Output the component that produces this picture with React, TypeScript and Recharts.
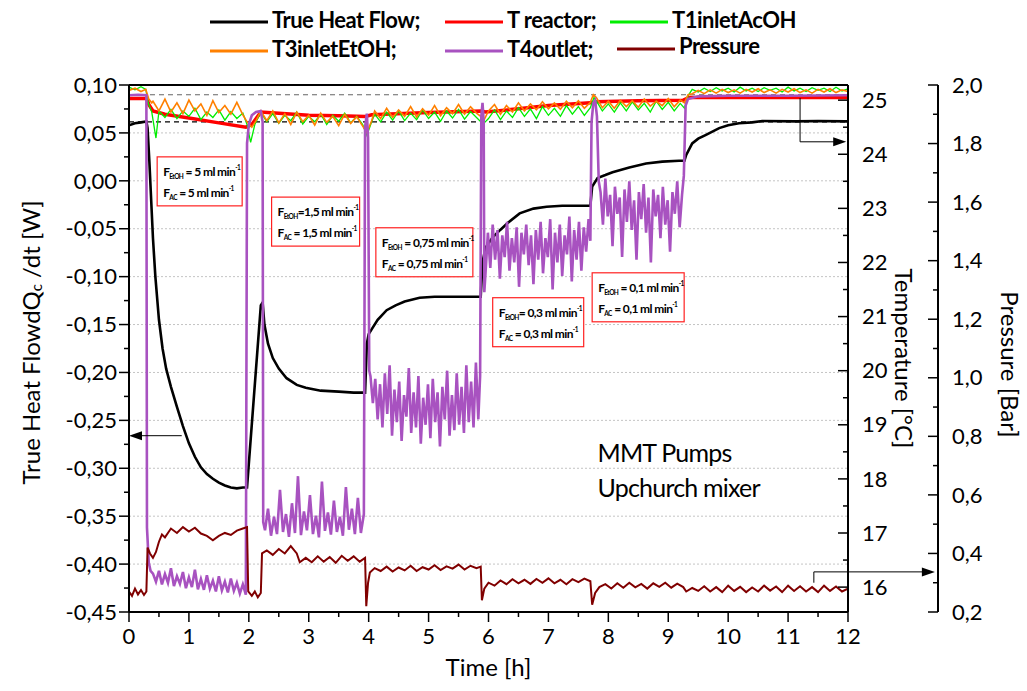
import React from 'react';
import { LineChart, Line, XAxis, YAxis, ReferenceLine, ReferenceDot, Legend } from 'recharts';

const FONT = 'Lato, "Open Sans", sans-serif';

// [time h, value] pairs
const heatFlow: [number, number][] = [
  [0, 0.058], [0.1, 0.06], [0.2, 0.061], [0.29, 0.062], [0.31, 0.055], [0.34, 0.02], [0.37, -0.02],
  [0.4, -0.06], [0.44, -0.1], [0.5, -0.145], [0.56, -0.175], [0.62, -0.196], [0.7, -0.215], [0.8, -0.236],
  [0.9, -0.256], [1.0, -0.274], [1.1, -0.288], [1.2, -0.299], [1.3, -0.306], [1.4, -0.311], [1.5, -0.315],
  [1.6, -0.318], [1.7, -0.32], [1.8, -0.321], [1.9, -0.32], [1.97, -0.32], [2.2, -0.13], [2.23, -0.127],
  [2.26, -0.15], [2.32, -0.17], [2.4, -0.185], [2.5, -0.196], [2.63, -0.206], [2.8, -0.213], [2.95, -0.216],
  [3.2, -0.219], [3.5, -0.22], [3.75, -0.221], [3.94, -0.221], [3.97, -0.17], [4.0, -0.16], [4.07, -0.153],
  [4.15, -0.145], [4.3, -0.135], [4.45, -0.13], [4.6, -0.126], [4.85, -0.122], [5.1, -0.121], [5.4, -0.121],
  [5.65, -0.121], [5.87, -0.121], [5.9, -0.085], [5.95, -0.07], [6.07, -0.059], [6.2, -0.051], [6.32, -0.044],
  [6.52, -0.034], [6.75, -0.029], [6.97, -0.027], [7.23, -0.026], [7.5, -0.026], [7.7, -0.026], [7.73, -0.006],
  [7.82, 0.003], [7.95, 0.006], [8.07, 0.009], [8.35, 0.014], [8.63, 0.018], [8.9, 0.02], [9.18, 0.021],
  [9.27, 0.021], [9.3, 0.027], [9.4, 0.039], [9.5, 0.044], [9.63, 0.048], [9.85, 0.055], [10.0, 0.058],
  [10.18, 0.06], [10.4, 0.061], [10.57, 0.0625], [11.13, 0.062], [11.5, 0.0625], [11.97, 0.062], [12, 0.062],
];

const tReactor: [number, number][] = [
  [0, 25.03], [0.3, 25.03], [0.33, 24.92], [0.4, 24.8], [0.6, 24.74], [1.0, 24.67], [1.5, 24.58],
  [1.95, 24.5], [2.05, 24.55], [2.2, 24.78], [2.5, 24.76], [3.0, 24.72], [3.5, 24.71], [3.95, 24.7],
  [4.05, 24.73], [5.0, 24.77], [5.88, 24.8], [5.95, 24.78], [6.5, 24.84], [7.0, 24.9], [7.7, 24.95],
  [7.8, 24.97], [8.5, 24.99], [9.25, 25.0], [9.35, 25.05], [10, 25.05], [12, 25.05],
];

const t1InletAcOH: [number, number][] = [
  [0, 25.24], [0.1, 25.19], [0.2, 25.25], [0.28, 25.2], [0.32, 24.95], [0.38, 24.78], [0.45, 24.3],
  [0.5, 24.8], [0.6, 24.68], [0.7, 24.83], [0.8, 24.66], [0.9, 24.8], [1.0, 24.7], [1.1, 24.85],
  [1.2, 24.64], [1.3, 24.78], [1.4, 24.68], [1.5, 24.82], [1.6, 24.63], [1.7, 24.79], [1.8, 24.66],
  [1.9, 24.76], [1.97, 24.55], [2.03, 24.22], [2.1, 24.55], [2.2, 24.78], [2.3, 24.6], [2.4, 24.75],
  [2.5, 24.57], [2.6, 24.72], [2.7, 24.62], [2.8, 24.78], [2.9, 24.56], [3.0, 24.7], [3.1, 24.6],
  [3.2, 24.74], [3.3, 24.55], [3.4, 24.72], [3.5, 24.61], [3.6, 24.76], [3.7, 24.58], [3.8, 24.7],
  [3.9, 24.55], [3.97, 24.35], [4.05, 24.6], [4.1, 24.74], [4.2, 24.6], [4.3, 24.78], [4.4, 24.63],
  [4.5, 24.8], [4.6, 24.62], [4.7, 24.76], [4.8, 24.64], [4.9, 24.82], [5.0, 24.66], [5.1, 24.78],
  [5.2, 24.61], [5.3, 24.8], [5.4, 24.67], [5.5, 24.83], [5.6, 24.65], [5.7, 24.79], [5.8, 24.68],
  [5.87, 24.6], [5.93, 24.58], [6.0, 24.66], [6.1, 24.82], [6.2, 24.64], [6.3, 24.8], [6.4, 24.68],
  [6.5, 24.86], [6.6, 24.7], [6.7, 24.84], [6.8, 24.66], [6.9, 24.88], [7.0, 24.72], [7.1, 24.85],
  [7.2, 24.7], [7.3, 24.9], [7.4, 24.74], [7.5, 24.88], [7.6, 24.72], [7.7, 24.86], [7.76, 25.05],
  [7.82, 24.95], [7.9, 24.8], [8.0, 24.93], [8.1, 24.78], [8.2, 24.95], [8.3, 24.8], [8.4, 24.97],
  [8.5, 24.82], [8.6, 24.94], [8.7, 24.78], [8.8, 24.98], [8.9, 24.83], [9.0, 24.96], [9.1, 24.8],
  [9.2, 24.94], [9.27, 24.85], [9.33, 25.08], [9.4, 25.2], [9.5, 25.15], [9.6, 25.22], [9.7, 25.16],
  [9.8, 25.23], [9.9, 25.17], [10.0, 25.22], [10.1, 25.15], [10.2, 25.24], [10.3, 25.17], [10.4, 25.22],
  [10.5, 25.16], [10.6, 25.23], [10.7, 25.18], [10.8, 25.22], [10.9, 25.15], [11.0, 25.24], [11.1, 25.17],
  [11.2, 25.22], [11.3, 25.16], [11.4, 25.23], [11.5, 25.18], [11.6, 25.22], [11.7, 25.16], [11.8, 25.24],
  [11.9, 25.17], [12.0, 25.21],
];

const t3InletEtOH: [number, number][] = [
  [0, 25.18], [0.1, 25.22], [0.2, 25.16], [0.28, 25.2], [0.33, 25.02], [0.38, 24.95], [0.4, 24.98],
  [0.5, 24.8], [0.6, 25.02], [0.7, 24.78], [0.8, 24.95], [0.9, 24.75], [1.0, 25.0], [1.1, 24.8],
  [1.2, 24.93], [1.3, 24.72], [1.4, 24.99], [1.5, 24.77], [1.6, 24.9], [1.7, 24.74], [1.8, 24.96],
  [1.9, 24.73], [1.97, 24.6], [2.05, 24.5], [2.12, 24.62], [2.2, 24.8], [2.3, 24.62], [2.4, 24.8],
  [2.5, 24.58], [2.6, 24.75], [2.7, 24.55], [2.8, 24.78], [2.9, 24.6], [3.0, 24.72], [3.1, 24.54],
  [3.2, 24.76], [3.3, 24.59], [3.4, 24.7], [3.5, 24.53], [3.6, 24.74], [3.7, 24.57], [3.8, 24.69],
  [3.9, 24.52], [3.97, 24.4], [4.05, 24.62], [4.1, 24.8], [4.2, 24.66], [4.3, 24.85], [4.4, 24.68],
  [4.5, 24.82], [4.6, 24.7], [4.7, 24.88], [4.8, 24.69], [4.9, 24.84], [5.0, 24.72], [5.1, 24.9],
  [5.2, 24.71], [5.3, 24.86], [5.4, 24.75], [5.5, 24.92], [5.6, 24.74], [5.7, 24.88], [5.8, 24.76],
  [5.87, 24.7], [5.92, 24.62], [6.0, 24.8], [6.1, 24.92], [6.2, 24.74], [6.3, 24.9], [6.4, 24.78],
  [6.5, 24.95], [6.6, 24.8], [6.7, 24.93], [6.8, 24.82], [6.9, 24.97], [7.0, 24.84], [7.1, 24.95],
  [7.2, 24.83], [7.3, 24.98], [7.4, 24.86], [7.5, 24.99], [7.6, 24.85], [7.7, 24.96], [7.75, 25.1],
  [7.8, 25.05], [7.9, 24.86], [8.0, 24.98], [8.1, 24.85], [8.2, 25.0], [8.3, 24.88], [8.4, 24.99],
  [8.5, 24.87], [8.6, 25.02], [8.7, 24.89], [8.8, 24.98], [8.9, 24.9], [9.0, 25.03], [9.1, 24.88],
  [9.2, 25.0], [9.27, 24.95], [9.33, 25.1], [9.4, 25.12], [9.5, 25.18], [9.6, 25.12], [9.7, 25.19],
  [9.8, 25.13], [9.9, 25.2], [10.0, 25.14], [10.1, 25.19], [10.2, 25.13], [10.3, 25.2], [10.4, 25.15],
  [10.5, 25.21], [10.6, 25.14], [10.7, 25.19], [10.8, 25.13], [10.9, 25.2], [11.0, 25.15], [11.1, 25.21],
  [11.2, 25.14], [11.3, 25.19], [11.4, 25.13], [11.5, 25.2], [11.6, 25.15], [11.7, 25.21], [11.8, 25.14],
  [11.9, 25.19], [12.0, 25.16],
];

const t4Outlet: [number, number][] = [
  [0, 25.09], [0.15, 25.1], [0.29, 25.09], [0.3, 17.1], [0.33, 16.45], [0.36, 16.3],
  [0.4, 16.25], [0.45, 16.1], [0.5, 16.3], [0.55, 16.05], [0.6, 16.24], [0.65, 16.08], [0.7, 16.35],
  [0.75, 16.02], [0.8, 16.2], [0.85, 16.06], [0.9, 16.28], [0.95, 15.98], [1.0, 16.18], [1.05, 16.0],
  [1.1, 16.32], [1.15, 15.96], [1.2, 16.15], [1.25, 15.95], [1.3, 16.22], [1.35, 15.97], [1.4, 16.12],
  [1.45, 15.92], [1.5, 16.2], [1.55, 15.94], [1.6, 16.1], [1.65, 15.9], [1.7, 16.16], [1.75, 15.93],
  [1.8, 16.08], [1.85, 15.88], [1.9, 16.05], [1.95, 15.86], [1.97, 24.2], [2.0, 24.55], [2.05, 24.72],
  [2.12, 24.78], [2.2, 24.8], [2.23, 24.6], [2.24, 17.2],
  [2.27, 17.05], [2.32, 17.45], [2.37, 16.95], [2.42, 17.3], [2.47, 16.98], [2.52, 17.8], [2.57, 17.02],
  [2.62, 17.35], [2.67, 16.93], [2.72, 17.55], [2.77, 17.0], [2.82, 18.05], [2.87, 16.96], [2.92, 17.4],
  [2.97, 17.05], [3.02, 17.7], [3.07, 16.98], [3.12, 17.32], [3.17, 16.92], [3.22, 17.95], [3.27, 17.04],
  [3.32, 17.38], [3.37, 16.97], [3.42, 17.6], [3.47, 17.02], [3.52, 17.3], [3.57, 16.95], [3.62, 17.85],
  [3.67, 17.06], [3.72, 17.45], [3.77, 16.98], [3.82, 17.65], [3.87, 17.0], [3.92, 17.35], [3.94, 24.5],
  [3.97, 24.75], [3.99, 24.3], [4.01, 20.0],
  [4.03, 19.9], [4.07, 19.4], [4.11, 19.85], [4.15, 19.1], [4.19, 19.75], [4.23, 18.95], [4.27, 19.95],
  [4.31, 19.2], [4.35, 20.1], [4.39, 18.8], [4.43, 19.65], [4.47, 19.05], [4.51, 19.8], [4.55, 18.7],
  [4.59, 19.55], [4.63, 19.15], [4.67, 20.05], [4.71, 18.85], [4.75, 19.6], [4.79, 18.95], [4.83, 19.9],
  [4.87, 18.65], [4.91, 19.5], [4.95, 19.0], [4.99, 19.75], [5.03, 18.75], [5.07, 19.85], [5.11, 19.05],
  [5.15, 19.6], [5.19, 18.6], [5.23, 19.7], [5.27, 19.1], [5.31, 20.0], [5.35, 18.8], [5.39, 19.55],
  [5.43, 18.9], [5.47, 19.95], [5.51, 19.0], [5.55, 19.7], [5.59, 18.85], [5.63, 20.1], [5.67, 19.05],
  [5.71, 19.8], [5.75, 18.95], [5.79, 20.15], [5.83, 19.1], [5.86, 19.9], [5.88, 24.7], [5.9, 24.95],
  [5.92, 24.6], [5.93, 21.45],
  [5.95, 21.8], [5.99, 22.55], [6.03, 21.9], [6.07, 22.7], [6.11, 22.05], [6.15, 22.6], [6.19, 21.7],
  [6.23, 22.5], [6.27, 22.1], [6.31, 22.75], [6.35, 21.85], [6.39, 22.45], [6.43, 22.0], [6.47, 22.65],
  [6.51, 21.55], [6.55, 22.55], [6.59, 22.15], [6.63, 22.7], [6.67, 21.95], [6.71, 22.5], [6.75, 21.6],
  [6.79, 22.6], [6.83, 22.05], [6.87, 22.75], [6.91, 21.8], [6.95, 22.45], [6.99, 22.1], [7.03, 22.8],
  [7.07, 21.5], [7.11, 22.55], [7.15, 22.0], [7.19, 22.7], [7.23, 21.75], [7.27, 22.5], [7.31, 22.15],
  [7.35, 22.85], [7.39, 21.65], [7.43, 22.6], [7.47, 22.05], [7.51, 22.75], [7.55, 21.85], [7.59, 22.65],
  [7.63, 22.2], [7.67, 22.8], [7.7, 22.4], [7.72, 24.6], [7.75, 24.95], [7.78, 25.0], [7.81, 24.7],
  [7.84, 23.5],
  [7.87, 23.3], [7.91, 22.7], [7.95, 23.55], [7.99, 22.85], [8.03, 23.25], [8.07, 22.3], [8.11, 23.4],
  [8.15, 22.9], [8.19, 23.2], [8.23, 22.1], [8.27, 23.35], [8.31, 22.75], [8.35, 23.5], [8.39, 22.6],
  [8.43, 23.15], [8.47, 22.05], [8.51, 23.3], [8.55, 22.8], [8.59, 23.45], [8.63, 22.55], [8.67, 23.2],
  [8.71, 22.0], [8.75, 23.35], [8.79, 22.85], [8.83, 23.25], [8.87, 22.45], [8.91, 23.4], [8.95, 22.7],
  [8.99, 23.15], [9.03, 22.2], [9.07, 23.3], [9.11, 22.9], [9.15, 23.5], [9.19, 22.65], [9.23, 23.25],
  [9.26, 23.6], [9.29, 24.9], [9.33, 25.02], [9.5, 25.07], [10, 25.08], [11, 25.08], [12, 25.09],
];

const pressure: [number, number][] = [
  [0, 0.27], [0.05, 0.255], [0.1, 0.28], [0.15, 0.26], [0.2, 0.275], [0.25, 0.258], [0.29, 0.27],
  [0.31, 0.42], [0.35, 0.4], [0.4, 0.385], [0.45, 0.405], [0.5, 0.44], [0.55, 0.465], [0.6, 0.455],
  [0.7, 0.485], [0.8, 0.47], [0.9, 0.49], [1.0, 0.475], [1.1, 0.488], [1.2, 0.468], [1.3, 0.46],
  [1.4, 0.445], [1.5, 0.46], [1.6, 0.47], [1.7, 0.463], [1.8, 0.478], [1.9, 0.485], [1.97, 0.49],
  [1.99, 0.27], [2.05, 0.255], [2.1, 0.27], [2.15, 0.25], [2.2, 0.265], [2.22, 0.4], [2.3, 0.41],
  [2.4, 0.395], [2.5, 0.415], [2.6, 0.4], [2.7, 0.425], [2.8, 0.4], [2.85, 0.37], [2.95, 0.385],
  [3.05, 0.37], [3.15, 0.39], [3.25, 0.372], [3.35, 0.388], [3.45, 0.368], [3.55, 0.392], [3.65, 0.375],
  [3.75, 0.39], [3.85, 0.372], [3.94, 0.385], [3.96, 0.22], [3.99, 0.3], [4.02, 0.335], [4.1, 0.35],
  [4.2, 0.34], [4.3, 0.355], [4.4, 0.338], [4.5, 0.352], [4.6, 0.342], [4.7, 0.358], [4.8, 0.34],
  [4.9, 0.353], [5.0, 0.345], [5.1, 0.36], [5.2, 0.343], [5.3, 0.356], [5.4, 0.348], [5.5, 0.362],
  [5.6, 0.345], [5.7, 0.358], [5.8, 0.35], [5.87, 0.355], [5.89, 0.24], [5.93, 0.28], [6.0, 0.3],
  [6.1, 0.29], [6.2, 0.308], [6.3, 0.295], [6.4, 0.312], [6.5, 0.298], [6.6, 0.31], [6.7, 0.296],
  [6.8, 0.313], [6.9, 0.3], [7.0, 0.315], [7.1, 0.298], [7.2, 0.31], [7.3, 0.295], [7.4, 0.312],
  [7.5, 0.302], [7.6, 0.314], [7.7, 0.305], [7.73, 0.225], [7.78, 0.265], [7.85, 0.285], [7.95, 0.295],
  [8.05, 0.28], [8.15, 0.298], [8.25, 0.283], [8.35, 0.3], [8.45, 0.284], [8.55, 0.296], [8.65, 0.28],
  [8.75, 0.298], [8.85, 0.286], [8.95, 0.3], [9.05, 0.283], [9.15, 0.297], [9.25, 0.285], [9.3, 0.27],
  [9.4, 0.282], [9.5, 0.272], [9.6, 0.288], [9.7, 0.27], [9.8, 0.285], [9.9, 0.268], [10.0, 0.29],
  [10.1, 0.272], [10.2, 0.286], [10.3, 0.268], [10.4, 0.284], [10.5, 0.27], [10.6, 0.29], [10.7, 0.273],
  [10.8, 0.287], [10.9, 0.268], [11.0, 0.29], [11.1, 0.272], [11.2, 0.288], [11.3, 0.27], [11.4, 0.285],
  [11.5, 0.268], [11.6, 0.29], [11.7, 0.272], [11.8, 0.287], [11.9, 0.27], [12.0, 0.28],
];

// tick labels
const timeTicks = [0, 1, 2, 3, 4, 5, 6, 7, 8, 9, 10, 11, 12];
const hfTicks = [0.1, 0.05, 0, -0.05, -0.1, -0.15, -0.2, -0.25, -0.3, -0.35, -0.4, -0.45];
const tempTicks = [16, 17, 18, 19, 20, 21, 22, 23, 24, 25];
const pressTicks = [0.2, 0.4, 0.6, 0.8, 1.0, 1.2, 1.4, 1.6, 1.8, 2.0];

// flow rate annotations (ml/min)
const flowEtOH = ['5', '1,5', '0,75', '0,3', '0,1'];
const flowAc = ['5', '1,5', '0,75', '0,3', '0,1'];
const baselineHeatFlow = 0.0615;
const tempReference = 25.1;

// annotation anchors (time, heat flow) and box widths
const boxAnchors = [
  { t: 0.47, v: 0.025, w: 85, sep: ' = ' },
  { t: 2.38, v: -0.017, w: 88, sep: '=' },
  { t: 4.12, v: -0.049, w: 97, sep: ' = ' },
  { t: 6.07, v: -0.122, w: 91, sep: '= ' },
  { t: 7.73, v: -0.096, w: 92, sep: ' = ' },
];

// axis ids: right axes are stacked in id order, temperature next to the plot
const HF = 'hf';
const TEMP = 'r1temp';
const PRESS = 'r2press';

const rows = (pairs: [number, number][]) => pairs.map(([t, v]) => ({ t, v }));

const series = [
  { id: 'heat', name: 'True Heat Flow;', color: '#000000', width: 2.6, axis: HF, data: rows(heatFlow) },
  { id: 'treac', name: 'T reactor;', color: '#ff0000', width: 3.5, axis: TEMP, data: rows(tReactor) },
  { id: 't1', name: 'T1inletAcOH', color: '#00ee00', width: 1.3, axis: TEMP, data: rows(t1InletAcOH) },
  { id: 't3', name: 'T3inletEtOH;', color: '#ff8000', width: 1.6, axis: TEMP, data: rows(t3InletEtOH) },
  { id: 't4', name: 'T4outlet;', color: '#a852c0', width: 2.6, axis: TEMP, data: rows(t4Outlet) },
  { id: 'p', name: 'Pressure', color: '#800000', width: 2, axis: PRESS, data: rows(pressure) },
];

const legendSpots: Record<string, { x: number; y: number; ty: number }> = {
  heat: { x: 210, y: 22, ty: 20 },
  treac: { x: 445, y: 22, ty: 20 },
  t1: { x: 610, y: 22, ty: 20 },
  t3: { x: 210, y: 51, ty: 49 },
  t4: { x: 445, y: 51, ty: 49 },
  p: { x: 617, y: 49, ty: 46 },
};

const minors = (majors: number[]) => {
  const s = [...majors].sort((a, b) => a - b);
  const out: number[] = [];
  s.forEach((m, i) => {
    out.push(m);
    if (i < s.length - 1) out.push((m + s[i + 1]) / 2);
  });
  return out;
};
const isMajor = (v: number, majors: number[]) => majors.some((m) => Math.abs(m - v) < 1e-6);
const comma = (v: number, d: number) => v.toFixed(d).replace('.', ',');

function HfTick(props: any) {
  const { x, y, payload } = props;
  const major = isMajor(payload.value, hfTicks);
  return (
    <g>
      <line x1={x - (major ? 10 : 5)} x2={x} y1={y} y2={y} stroke="#000" strokeWidth={1.5} />
      {major && (
        <text x={x - 12} y={y} dy="0.35em" textAnchor="end" fontSize={22} fontFamily={FONT} fill="#000">
          {comma(payload.value, 2)}
        </text>
      )}
    </g>
  );
}

function TimeTick(props: any) {
  const { x, y, payload } = props;
  const major = isMajor(payload.value, timeTicks);
  return (
    <g>
      <line x1={x} x2={x} y1={y} y2={y + (major ? 10 : 5)} stroke="#000" strokeWidth={1.5} />
      {major && (
        <text x={x} y={y + 24} dy="0.35em" textAnchor="middle" fontSize={22} fontFamily={FONT} fill="#000">
          {payload.value}
        </text>
      )}
    </g>
  );
}

function RightTick(props: any) {
  const { x, y, payload, majors, digits } = props;
  const major = isMajor(payload.value, majors);
  return (
    <g>
      <line x1={x - (major ? 10 : 5)} x2={x} y1={y} y2={y} stroke="#000" strokeWidth={1.5} />
      {major && (
        <text x={x + 14} y={y} dy="0.35em" textAnchor="start" fontSize={22} fontFamily={FONT} fill="#000">
          {comma(payload.value, digits)}
        </text>
      )}
    </g>
  );
}

function LeftTitle(props: any) {
  const vb = props.viewBox ?? { x: 0, y: 85, width: 129, height: 527 };
  const cx = vb.x + 30;
  const cy = vb.y + vb.height / 2 - 6;
  return (
    <text transform={`translate(${cx},${cy}) rotate(-90)`} textAnchor="middle" dominantBaseline="central"
      fontSize={24} fontFamily={FONT} fill="#000">
      True Heat FlowdQ<tspan fontSize={15} dy={6}>c</tspan><tspan dy={-6}> /dt [W]</tspan>
    </text>
  );
}

const rightTitle = (text: string, dx: number, dy: number) => (props: any) => {
  const vb = props.viewBox ?? { x: 848, y: 85, width: 90, height: 527 };
  const cx = vb.x + dx;
  const cy = vb.y + vb.height / 2 + dy;
  return (
    <text transform={`translate(${cx},${cy}) rotate(90)`} textAnchor="middle" dominantBaseline="central"
      fontSize={24} fontFamily={FONT} fill="#000">
      {text}
    </text>
  );
};

function FlowBox(props: any) {
  const { cx, cy, w, etoh, ac, sep } = props;
  const t = { fontSize: 12, fontWeight: 'bold' as const, fontFamily: FONT, fill: '#000', letterSpacing: -0.6 };
  return (
    <g>
      <rect x={cx} y={cy} width={w} height={49} fill="#fff" stroke="#ff2020" strokeWidth={1.2} />
      <text x={cx + 6} y={cy + 19} {...t}>
        F<tspan fontSize={6.5} dy={3}>EtOH</tspan>
        <tspan dy={-3}>{sep}{etoh} ml min</tspan>
        <tspan fontSize={6.5} dy={-6}>-1</tspan>
      </text>
      <text x={cx + 6} y={cy + 40} {...t}>
        F<tspan fontSize={6.5} dy={3}>AC</tspan>
        <tspan dy={-3}> = {ac} ml min</tspan>
        <tspan fontSize={6.5} dy={-6}>-1</tspan>
      </text>
    </g>
  );
}

const arrowHead = (dir: 'left' | 'right') => (props: any) => {
  const { cx, cy } = props;
  const d = dir === 'left'
    ? `M${cx},${cy} l13,-4.5 l0,9 z`
    : `M${cx},${cy} l-13,-4.5 l0,9 z`;
  return <path d={d} fill="#000" />;
};

function ChartLegend() {
  return (
    <svg width={1027} height={70} style={{ display: 'block' }}>
      {series.map((s) => {
        const pos = legendSpots[s.id];
        return (
          <g key={s.id}>
            <line x1={pos.x} x2={pos.x + 58} y1={pos.y} y2={pos.y} stroke={s.color} strokeWidth={3} />
            <text x={pos.x + 62} y={pos.ty} dy="0.35em" fontSize={22} fontWeight="bold" fontFamily={FONT}
              letterSpacing={-0.5} fill="#000">
              {s.name}
            </text>
          </g>
        );
      })}
    </svg>
  );
}

export default function App() {
  const hfAll = minors(hfTicks);
  const timeAll = minors(timeTicks);
  const tempAll = minors(tempTicks);
  const pressAll = minors(pressTicks);

  return (
    <div style={{ position: 'absolute', left: 0, top: 0, width: 1027, height: 691, background: '#fff', fontFamily: FONT }}>
      <LineChart width={1027} height={691} margin={{ top: 85, right: 0, bottom: 0, left: 0 }}>
        <XAxis dataKey="t" type="number" domain={[0, 12]} ticks={timeAll} interval={0} allowDataOverflow
          height={79} tickSize={0} tickMargin={0} tickLine={false}
          axisLine={{ stroke: '#000', strokeWidth: 2 }} tick={(p: any) => <TimeTick {...p} />}
          label={(p: any) => {
            const vb = p.viewBox ?? { x: 129, y: 612, width: 719, height: 79 };
            return (
              <text x={vb.x + vb.width / 2} y={vb.y + 56} dy="0.35em" textAnchor="middle" fontSize={24}
                fontFamily={FONT} fill="#000">Time [h]</text>
            );
          }} />
        <YAxis yAxisId={HF} type="number" domain={[-0.45, 0.1]} ticks={hfAll} interval={0} allowDataOverflow
          width={129} tickSize={0} tickMargin={0} tickLine={false}
          axisLine={{ stroke: '#000', strokeWidth: 2 }} tick={(p: any) => <HfTick {...p} />}
          label={(p: any) => <LeftTitle {...p} />} />
        <YAxis yAxisId={TEMP} orientation="right" type="number" domain={[15.54, 25.28]} ticks={tempAll}
          interval={0} allowDataOverflow width={90} tickSize={0} tickMargin={0} tickLine={false}
          axisLine={{ stroke: '#000', strokeWidth: 2 }}
          tick={(p: any) => <RightTick {...p} majors={tempTicks} digits={0} />}
          label={rightTitle('Temperature [°C]', 56, 10)} />
        <YAxis yAxisId={PRESS} orientation="right" type="number" domain={[0.2, 2.0]} ticks={pressAll}
          interval={0} allowDataOverflow width={89} tickSize={0} tickMargin={0} tickLine={false}
          axisLine={{ stroke: '#000', strokeWidth: 2 }}
          tick={(p: any) => <RightTick {...p} majors={pressTicks} digits={1} />}
          label={rightTitle('Pressure [Bar]', 72, 16)} />

        {hfTicks.slice(1, -1).map((v) => (
          <ReferenceLine key={`g${v}`} yAxisId={HF} y={v} stroke="#c4c4c4" strokeDasharray="2 2" strokeWidth={1} />
        ))}
        <ReferenceLine yAxisId={HF} y={0.1} stroke="#000" strokeWidth={2} />
        <ReferenceLine yAxisId={HF} y={baselineHeatFlow} stroke="#000" strokeDasharray="5 4" strokeWidth={1.2} />
        <ReferenceLine yAxisId={TEMP} y={tempReference} stroke="#666" strokeDasharray="5 4" strokeWidth={1.2} />

        {series.map((s) => (
          <Line key={s.id} yAxisId={s.axis} data={s.data} dataKey="v" name={s.name} type="linear"
            stroke={s.color} strokeWidth={s.width} dot={false} activeDot={false} isAnimationActive={false} />
        ))}

        <ReferenceLine yAxisId={HF} ifOverflow="visible" stroke="#000" strokeWidth={1}
          segment={[{ x: 0.88, y: -0.266 }, { x: 0.1, y: -0.266 }]} />
        <ReferenceDot yAxisId={HF} x={0} y={-0.266} r={0} ifOverflow="visible" shape={arrowHead('left')} />

        <ReferenceLine yAxisId={TEMP} ifOverflow="visible" stroke="#000" strokeWidth={1}
          segment={[{ x: 11.2, y: 25.04 }, { x: 11.2, y: 24.23 }]} />
        <ReferenceLine yAxisId={TEMP} ifOverflow="visible" stroke="#000" strokeWidth={1}
          segment={[{ x: 11.2, y: 24.23 }, { x: 11.8, y: 24.23 }]} />
        <ReferenceDot yAxisId={TEMP} x={11.97} y={24.23} r={0} ifOverflow="visible" shape={arrowHead('right')} />

        <ReferenceLine yAxisId={PRESS} ifOverflow="visible" stroke="#000" strokeWidth={1}
          segment={[{ x: 11.43, y: 0.3 }, { x: 11.43, y: 0.337 }]} />
        <ReferenceLine yAxisId={PRESS} ifOverflow="visible" stroke="#000" strokeWidth={1}
          segment={[{ x: 11.43, y: 0.337 }, { x: 13.3, y: 0.337 }]} />
        <ReferenceDot yAxisId={PRESS} x={13.45} y={0.337} r={0} ifOverflow="visible" shape={arrowHead('right')} />

        {boxAnchors.map((b, i) => (
          <ReferenceDot key={`box${i}`} yAxisId={HF} x={b.t} y={b.v} r={0} ifOverflow="visible"
            shape={(p: any) => <FlowBox {...p} w={b.w} etoh={flowEtOH[i]} ac={flowAc[i]} sep={b.sep} />} />
        ))}

        <ReferenceDot yAxisId={HF} x={7.82} y={-0.2935} r={0} ifOverflow="visible"
          shape={(p: any) => (
            <g>
              <text x={p.cx} y={p.cy} fontSize={25} fontFamily={FONT} fill="#000" letterSpacing={-0.8}>MMT Pumps</text>
              <text x={p.cx} y={p.cy + 35} fontSize={25} fontFamily={FONT} fill="#000" letterSpacing={-0.8}>Upchurch mixer</text>
            </g>
          )} />

        <Legend verticalAlign="middle" align="center" layout="horizontal" content={() => <ChartLegend />}
          wrapperStyle={{ top: 0, left: 0, width: 1027, height: 70 }} />
      </LineChart>
    </div>
  );
}
